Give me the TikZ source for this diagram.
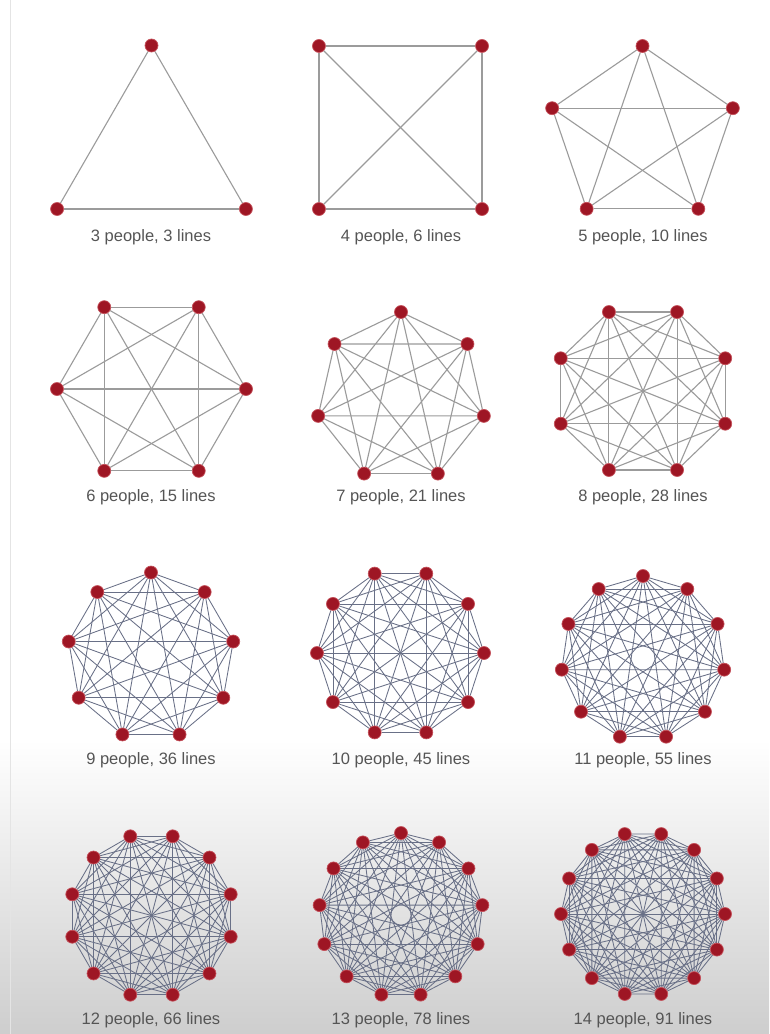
\documentclass[tikz,border=0pt]{standalone}
\usepackage{fontspec}
\setmainfont{Liberation Sans}
\definecolor{dotred}{RGB}{158,22,36}
\definecolor{dotrim}{RGB}{196,80,90}
\definecolor{edgegray}{RGB}{155,155,155}
\definecolor{edgeblue}{RGB}{105,112,135}
\definecolor{labelgray}{RGB}{85,85,85}
\definecolor{bggray}{RGB}{188,188,188}
\definecolor{stripgray}{RGB}{228,228,228}
\pgfdeclarelayer{bgl}
\pgfdeclarelayer{edges}
\pgfsetlayers{bgl,edges,main}
\tikzset{
  dot/.style={circle, fill=dotred, draw=dotrim, line width=0.7pt, inner sep=0pt, minimum size=13pt},
  lightedge/.style={draw=edgegray, line width=1.1pt},
  denseedge/.style={draw=edgeblue, line width=0.85pt},
  caption/.style={text=labelgray, font=\fontsize{16.5}{18}\selectfont, inner sep=0pt, anchor=center}
}
% #1 id, #2 n, #3 cx, #4 cy, #5 rx, #6 ry, #7 start angle, #8 edge style
\newcommand\kgraph[8]{%
  \foreach \k in {1,...,#2}{%
    \pgfmathsetmacro\ang{#7+360*(\k-1)/#2}%
    \node[dot] (#1-\k) at ({#3+#5*cos(\ang)},{#4-#6*sin(\ang)}) {};
  }%
  \begin{pgfonlayer}{edges}
  \foreach \i in {1,...,#2}{%
    \foreach \j in {\i,...,#2}{%
      \ifnum\j>\i\relax \draw[#8] (#1-\i) -- (#1-\j);\fi
    }%
  }%
  \end{pgfonlayer}
}
\begin{document}
\begin{tikzpicture}[x=1pt,y=-1pt]
\useasboundingbox (0,0) rectangle (769,1034);
\begin{pgfonlayer}{bgl}
  \fill[white] (0,0) rectangle (769,1034);
  \begin{scope}
    \clip (0,0) rectangle (769,1034);
    \shade[top color=white, bottom color=bggray] (0,740) rectangle (769,1140);
  \end{scope}
  \draw[stripgray, line width=1pt] (10,0) -- (10,1034);
\end{pgfonlayer}

% Row 1
\kgraph{a}{3}{151.5}{154.5}{109}{109}{90}{lightedge}
\kgraph{b}{4}{400.5}{127.5}{115.3}{115.3}{45}{lightedge}
\kgraph{c}{5}{642.5}{136}{95}{90}{90}{lightedge}
\node[caption] (la) at (151,237) {3 people, 3 lines};
\node[caption] (lb) at (401,237) {4 people, 6 lines};
\node[caption] (lc) at (643,237) {5 people, 10 lines};

% Row 2
\kgraph{d}{6}{151.5}{389}{94.5}{94.5}{0}{lightedge}
\kgraph{e}{7}{401}{397}{85}{85}{90}{lightedge}
\kgraph{f}{8}{643}{391}{89}{85.5}{22.5}{lightedge}
\node[caption] (ld) at (151,497) {6 people, 15 lines};
\node[caption] (le) at (401,497) {7 people, 21 lines};
\node[caption] (lf) at (643,497) {8 people, 28 lines};

% Row 3
\kgraph{g}{9}{151}{656}{83.5}{83.5}{90}{denseedge}
\kgraph{h}{10}{400.5}{653}{83.5}{83.5}{0}{denseedge}
\kgraph{i}{11}{643}{658}{82}{82}{90}{denseedge}
\node[caption] (lg) at (151,760) {9 people, 36 lines};
\node[caption] (lh) at (401,760) {10 people, 45 lines};
\node[caption] (li) at (643,760) {11 people, 55 lines};

% Row 4
\kgraph{j}{12}{151.5}{915.5}{82}{82}{15}{denseedge}
\kgraph{k}{13}{401}{915}{82}{82}{90}{denseedge}
\kgraph{m}{14}{643}{914}{82}{82}{0}{denseedge}
\node[caption] (lj) at (151,1020) {12 people, 66 lines};
\node[caption] (lk) at (401,1020) {13 people, 78 lines};
\node[caption] (lm) at (643,1020) {14 people, 91 lines};
\end{tikzpicture}
\end{document}
